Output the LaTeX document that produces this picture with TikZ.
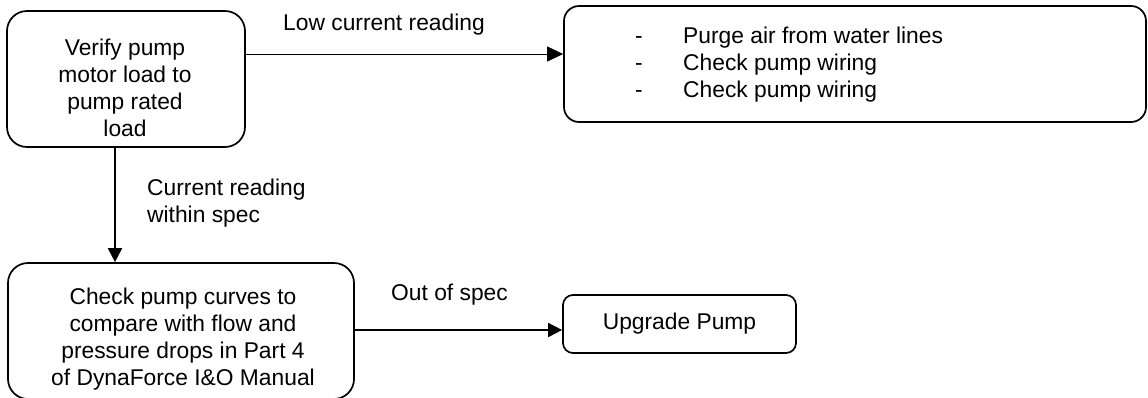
\documentclass[tikz,border=0pt]{standalone}
\usepackage{fontspec}
\setmainfont{Liberation Sans}
\usetikzlibrary{arrows.meta,calc}
\begin{document}
\begin{tikzpicture}[x=1pt,y=-1pt,
  box/.style={draw=black,line width=1.7pt,rounded corners=#1,inner sep=0pt,fill=none},
  txt/.style={inner sep=0pt,align=center,font=\fontsize{22.8}{27}\selectfont},
  lbl/.style={inner sep=0pt,font=\fontsize{22.8}{27}\selectfont},
  arr/.style={line width=1.8pt,-{Triangle[length=14pt,width=14pt]}},
  thinarr/.style={line width=1pt,-{Triangle[length=16pt,width=15pt]}}]
\useasboundingbox (0,0) rectangle (1148,397);
% boxes
\node[box=20pt,minimum width=238pt,minimum height=136pt] (A) at (126,79) {};
\node[txt] (At) at (125,88) {Verify pump\\motor load to\\pump rated\\load};
\node[box=15pt,minimum width=582pt,minimum height=116pt] (B) at (855,64) {};
\node[lbl,anchor=west,align=left] (Bt) at (635,65) {\makebox[48pt][l]{-}Purge air from water lines\\\makebox[48pt][l]{-}Check pump wiring\\\makebox[48pt][l]{-}Check pump wiring};
\node[box=20pt,minimum width=346pt,minimum height=136pt] (C) at (181,331) {};
\node[txt] (Ct) at (183,339) {Check pump curves to\\compare with flow and\\pressure drops in Part 4\\of DynaForce I\&O Manual};
\node[box=10pt,minimum width=233pt,minimum height=58pt,txt] (D) at (679.5,324) {Upgrade Pump};
% connectors
\draw[thinarr] (A.east |- 0,54) -- (B.west |- 0,54);
\draw[arr] (A.south -| 115,0) -- (C.north -| 115,0);
\draw[arr] (C.east |- 0,330) -- (D.west |- 0,330);
% labels
\node[lbl] (l1) at (384,25) {Low current reading};
\node[lbl,anchor=west,align=left] (l2) at (147,203.5) {Current reading\\within spec};
\node[lbl] (l3) at (449.5,295) {Out of spec};
\end{tikzpicture}
\end{document}
